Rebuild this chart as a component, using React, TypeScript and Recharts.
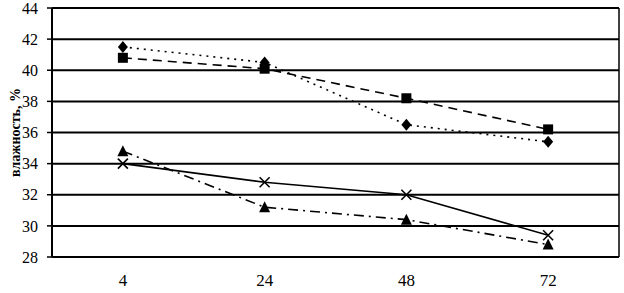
import React from 'react';
import { LineChart, Line, XAxis, YAxis, CartesianGrid, ReferenceLine } from 'recharts';

const categories = ['4', '24', '48', '72'];
const diamondSeries = [41.5, 40.5, 36.5, 35.4];
const squareSeries = [40.8, 40.1, 38.2, 36.2];
const triangleSeries = [34.8, 31.2, 30.4, 28.8];
const crossSeries = [34.0, 32.8, 32.0, 29.4];
const yTicks = [28, 30, 32, 34, 36, 38, 40, 42, 44];

const data = categories.map((c, i) => ({
  x: i + 0.5,
  cat: c,
  diamond: diamondSeries[i],
  square: squareSeries[i],
  triangle: triangleSeries[i],
  cross: crossSeries[i],
}));

const font = '"Liberation Serif", "Times New Roman", serif';

const Diamond = (p: any) => (
  <polygon key={`d${p.index}`} points={`${p.cx},${p.cy - 6} ${p.cx + 5},${p.cy} ${p.cx},${p.cy + 6} ${p.cx - 5},${p.cy}`} fill="#000" />
);
const Square = (p: any) => (
  <rect key={`s${p.index}`} x={p.cx - 5} y={p.cy - 5} width={10} height={10} fill="#000" />
);
const Triangle = (p: any) => (
  <polygon key={`t${p.index}`} points={`${p.cx},${p.cy - 6} ${p.cx + 5.5},${p.cy + 5} ${p.cx - 5.5},${p.cy + 5}`} fill="#000" />
);
const Cross = (p: any) => (
  <g key={`c${p.index}`}>
    <line x1={p.cx - 5} y1={p.cy - 5} x2={p.cx + 5} y2={p.cy + 5} stroke="#000" strokeWidth={1.6} />
    <line x1={p.cx - 5} y1={p.cy + 5} x2={p.cx + 5} y2={p.cy - 5} stroke="#000" strokeWidth={1.6} />
  </g>
);

export default function App() {
  return (
    <div style={{ position: 'absolute', left: 0, top: 0, background: '#fff' }}>
      <LineChart width={624} height={293} data={data} margin={{ top: 8, right: 5, left: 0, bottom: 0 }}>
        <CartesianGrid vertical={false} stroke="#000" strokeWidth={2} />
        <XAxis
          xAxisId="ticks"
          dataKey="x"
          type="number"
          domain={[0, 4]}
          ticks={[0, 1, 2, 3, 4]}
          height={0}
          tickFormatter={() => ''}
          tickSize={5}
          axisLine={{ stroke: '#000', strokeWidth: 2 }}
          tickLine={{ stroke: '#000', strokeWidth: 1.5 }}
        />
        <XAxis
          xAxisId="main"
          dataKey="x"
          type="number"
          domain={[0, 4]}
          ticks={[0.5, 1.5, 2.5, 3.5]}
          tickFormatter={(v: number) => categories[Math.floor(v)]}
          height={36}
          axisLine={false}
          tickLine={false}
          tickSize={0}
          tickMargin={17}
          tick={{ fill: '#000', fontSize: 17, fontFamily: font }}
        />
        <YAxis
          domain={[28, 44]}
          ticks={yTicks}
          width={52}
          interval={0}
          tickSize={5}
          tickMargin={9}
          axisLine={{ stroke: '#000', strokeWidth: 2 }}
          tickLine={{ stroke: '#000', strokeWidth: 1.5 }}
          tick={{ fill: '#000', fontSize: 16, fontFamily: font }}
          label={{
            value: 'влажность, %',
            angle: -90,
            position: 'center',
            dx: -11,
            style: { fill: '#000', fontSize: 14, fontWeight: 'bold', fontFamily: font, textAnchor: 'middle' },
          }}
        />
        <ReferenceLine xAxisId="main" x={4} stroke="#000" strokeWidth={1.5} />
        <Line xAxisId="main" dataKey="diamond" stroke="#000" strokeWidth={1.6} strokeDasharray="2 5" dot={Diamond} isAnimationActive={false} />
        <Line xAxisId="main" dataKey="square" stroke="#000" strokeWidth={1.6} strokeDasharray="9 6" dot={Square} isAnimationActive={false} />
        <Line xAxisId="main" dataKey="triangle" stroke="#000" strokeWidth={1.6} strokeDasharray="10 5 2 5" dot={Triangle} isAnimationActive={false} />
        <Line xAxisId="main" dataKey="cross" stroke="#000" strokeWidth={1.6} dot={Cross} isAnimationActive={false} />
      </LineChart>
    </div>
  );
}
